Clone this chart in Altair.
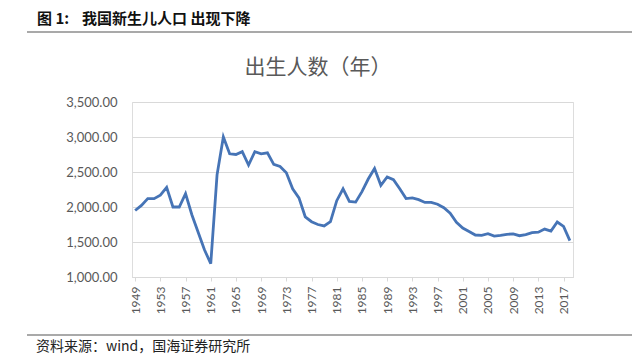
import altair as alt
import pandas as pd

years = list(range(1949, 2019))
births = [1950, 2023, 2120, 2120, 2170, 2280, 2000, 2000, 2190, 1890,
          1640, 1390, 1190, 2460, 3000, 2760, 2750, 2790, 2600, 2790,
          2760, 2775, 2610, 2580, 2490, 2260, 2130, 1860, 1790, 1750,
          1730, 1790, 2090, 2260, 2080, 2070, 2220, 2400, 2550, 2310,
          2430, 2390, 2260, 2120, 2130, 2105, 2065, 2065, 2040, 1990,
          1910, 1780, 1700, 1650, 1600, 1595, 1620, 1585, 1595, 1610,
          1615, 1590, 1605, 1635, 1640, 1685, 1655, 1786, 1723, 1520]
tick_years = [str(y) for y in range(1949, 2019, 4)]

header_label = "图 1:"
header = "我国新生儿人口 出现下降"
title = "出生人数（年）"
source = "资料来源：wind，国海证券研究所"

df = pd.DataFrame({"year": [str(y) for y in years], "births": births})

W, H = 441, 175
FONT = "Lato"
CJK = "Noto Sans CJK SC"

line = alt.Chart(df).mark_line(color="#4674b6", strokeWidth=2.8).encode(
    x=alt.X("year:O", sort=None,
            scale=alt.Scale(paddingInner=0, paddingOuter=0),
            axis=alt.Axis(values=tick_years, labelAngle=270, title=None,
                          labelFont=FONT, labelFontSize=12, labelColor="#595959",
                          labelPadding=5, tickSize=4, tickColor="#d9d9d9",
                          domainColor="#d9d9d9", grid=False, labelBaseline="middle")),
    y=alt.Y("births:Q",
            scale=alt.Scale(domain=[1000, 3500], nice=False, zero=False),
            axis=alt.Axis(values=[1000, 1500, 2000, 2500, 3000, 3500], format=",.2f",
                          title=None, ticks=False, domain=False, labelPadding=15,
                          labelFont=FONT, labelFontSize=13, labelColor="#595959",
                          gridColor="#d9d9d9", gridWidth=1)),
)

def txt(s, x, y, size, weight="normal", align="left", color="#222222", font=CJK):
    return alt.Chart(pd.DataFrame({"t": [s]})).mark_text(
        align=align, baseline="middle", fontSize=size, fontWeight=weight,
        color=color, font=font).encode(
        text="t:N", x=alt.value(x), y=alt.value(y))

def hrule(y, x1, x2, color="#555555", w=1.2):
    return alt.Chart(pd.DataFrame({"a": [0]})).mark_rule(color=color, strokeWidth=w).encode(
        x=alt.value(x1), x2=alt.value(x2), y=alt.value(y))

chart = alt.layer(
    line,
    txt(header_label, -95, -83, 15, weight="bold", color="#111111"),
    txt(header, -50, -83, 15, weight="bold", color="#111111"),
    hrule(-70, -105, 510),
    txt(title, 186, -34, 21, align="center", color="#595959"),
    hrule(233, -105, 510),
    txt(source, -96, 245, 14, color="#222222"),
).properties(
    width=W, height=H,
    autosize=alt.AutoSizeParams(type="none"),
    padding={"left": 124, "top": 94, "right": 59, "bottom": 78},
).configure_view(stroke=None).configure(background="white")

chart.save("out.html", embed_options={"renderer": "svg", "actions": False})
